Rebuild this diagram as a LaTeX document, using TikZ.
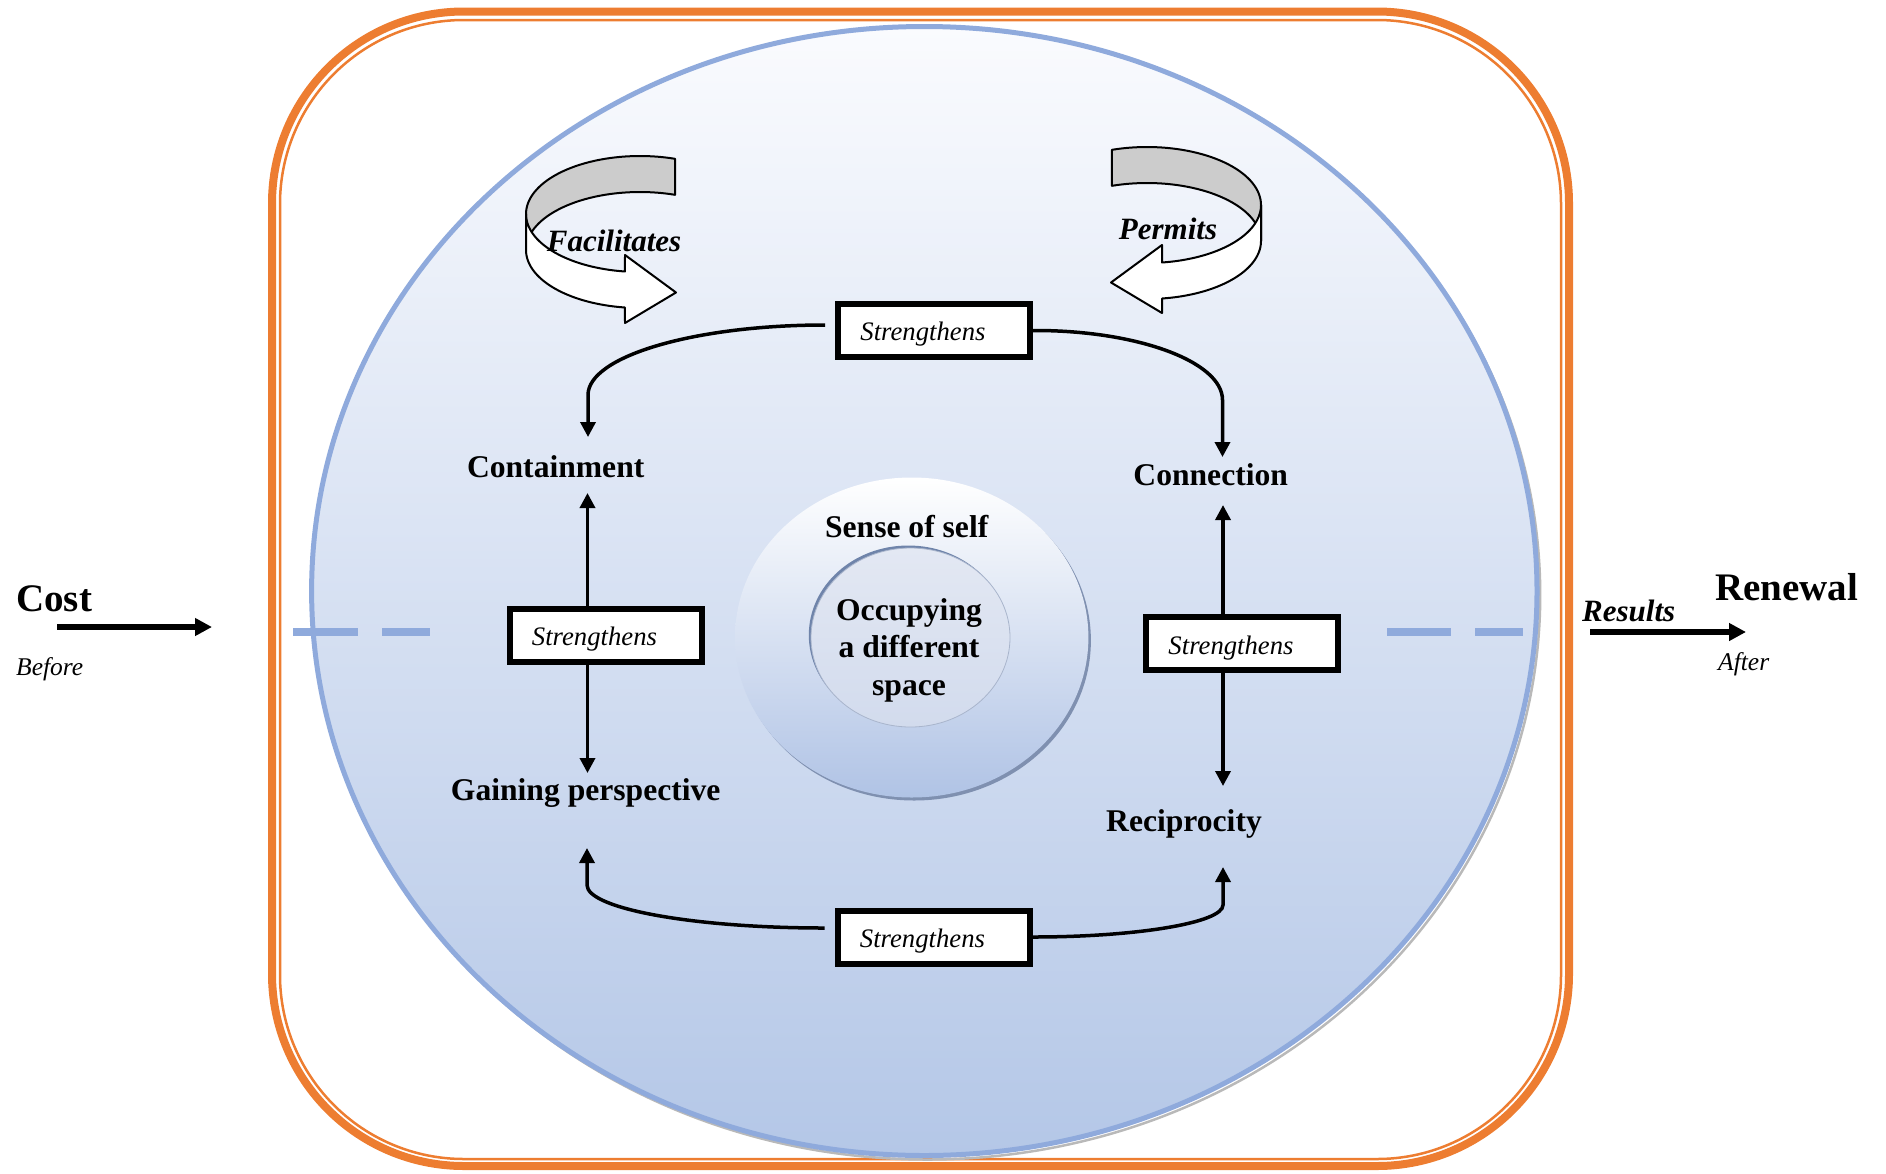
\documentclass[tikz,border=0pt]{standalone}
\usepackage{fontspec}
\setmainfont{Liberation Serif}
\usetikzlibrary{arrows.meta}
\definecolor{orng}{HTML}{ED7D31}
\definecolor{bluebd}{HTML}{8FAADC}
\definecolor{elltop}{HTML}{FAFBFE}
\definecolor{ellbot}{HTML}{B4C7E7}
\definecolor{ribgray}{HTML}{CCCCCC}
\definecolor{rimdark}{HTML}{7F90B0}
\definecolor{innertop}{HTML}{E3E8F3}
\definecolor{innerbot}{HTML}{D2DBED}
\definecolor{innerrim}{HTML}{6F84AA}
\definecolor{selfbot}{HTML}{B0C3E5}
\begin{document}
\begin{tikzpicture}[x=1pt,y=-1pt,
  lab/.style={font=\fontsize{31.6pt}{36pt}\selectfont\bfseries, inner sep=0pt, anchor=base},
  ribtxt/.style={font=\fontsize{31pt}{36pt}\selectfont\bfseries\itshape, inner sep=0pt, anchor=base},
  bigtxt/.style={font=\fontsize{39pt}{44pt}\selectfont\bfseries, inner sep=0pt, anchor=base west},
  smalltxt/.style={font=\fontsize{25.5pt}{30pt}\selectfont\itshape, inner sep=0pt, anchor=base west},
  sbox/.style={draw, line width=6pt, fill=white, minimum width=192pt, minimum height=53pt, inner sep=0pt, text height=25pt, text depth=4.4pt, font=\fontsize{26.7pt}{32pt}\selectfont\itshape},
  conn/.style={line width=3.5pt, -{Triangle[length=15pt,width=15pt]}},
  bigarrow/.style={line width=6pt, -{Triangle[length=17pt,width=17pt]}},
  ribbon/.style={line width=2pt, draw=black, line join=round},
  dashseg/.style={line width=8pt, draw=bluebd}]

\useasboundingbox (0,0) rectangle (1886,1173);

% orange frame
\draw[orng, line width=8pt, rounded corners=192pt] (272,11.5) rectangle (1569,1166);
\draw[orng, line width=2.5pt, rounded corners=184pt] (280,20) rectangle (1561,1159);

% big ellipse
\draw[gray!55, line width=2.5pt] (927.5,595) ellipse [x radius=612.7pt, y radius=564.5pt];
\shade[top color=elltop, bottom color=ellbot] (924.3,591) ellipse [x radius=612.7pt, y radius=564.5pt];
\draw[bluebd, line width=5pt] (924.3,591) ellipse [x radius=612.7pt, y radius=564.5pt];

% dashes
\draw[dashseg] (293,632) -- (358,632);
\draw[dashseg] (382,632) -- (430,632);
\draw[dashseg] (1387,632) -- (1451,632);
\draw[dashseg] (1475,632) -- (1523,632);

% Facilitates ribbon
\filldraw[ribbon, fill=ribgray] plot[domain=72.1:180, samples=40] ({640+114*cos(\x)},{214-58*sin(\x)})
  -- plot[domain=180:72.1, samples=40] ({640+114*cos(\x)},{250-58*sin(\x)}) -- cycle;
\filldraw[ribbon, fill=white] plot[domain=180:262.4, samples=40] ({640+114*cos(\x)},{214-58*sin(\x)})
  -- (625,255) -- (676,292.5) -- (625,323)
  -- plot[domain=262.4:180, samples=40] ({640+114*cos(\x)},{250-58*sin(\x)}) -- cycle;

% Permits ribbon
\filldraw[ribbon, fill=ribgray] plot[domain=107.9:0, samples=40] ({1147+114*cos(\x)},{205-58*sin(\x)})
  -- plot[domain=0:107.9, samples=40] ({1147+114*cos(\x)},{241-58*sin(\x)}) -- cycle;
\filldraw[ribbon, fill=white] plot[domain=0:-82.4, samples=40] ({1147+114*cos(\x)},{205-58*sin(\x)})
  -- (1162,245) -- (1111,282.5) -- (1162,313)
  -- plot[domain=-82.4:0, samples=40] ({1147+114*cos(\x)},{241-58*sin(\x)}) -- cycle;

% central ellipses
\fill[rimdark] (914.2,640.5) ellipse [x radius=176.7pt, y radius=160pt];
\shade[top color=white, bottom color=selfbot] (911.7,637.5) ellipse [x radius=176.7pt, y radius=160pt];
\fill[innerrim] (908.3,635) ellipse [x radius=99.5pt, y radius=89.5pt];
\shade[top color=innertop, bottom color=innerbot] (910.5,637.5) ellipse [x radius=99.5pt, y radius=89.5pt];
\draw[innerrim!60, line width=0.8pt] (910.5,637.5) ellipse [x radius=99.5pt, y radius=89.5pt];

% Strengthens boxes
\node[sbox] (sT) at (934,330.5) {\hspace*{-22pt}Strengthens};
\node[sbox] (sL) at (605.5,635) {\hspace*{-22pt}Strengthens};
\node[sbox] (sR) at (1242,643.7) {\hspace*{-22pt}Strengthens};
\node[sbox] (sB) at (933.5,937) {\hspace*{-22pt}Strengthens};

% arrow tips
\coordinate (tTL) at (588,437);
\coordinate (tTR) at (1222.5,457);
\coordinate (tLU) at (587.5,493);
\coordinate (tLD) at (587.5,773);
\coordinate (tRU) at (1223,505);
\coordinate (tRD) at (1223,786);
\coordinate (tBL) at (587,848);
\coordinate (tBR) at (1223,867);

% connectors
\draw[conn] ([xshift=-10pt,yshift=5.5pt]sT.west) .. controls (694.6,325) and (588,356.3) .. (588,395) -- (tTL);
\draw[conn] (sT.east) .. controls (1136,330) and (1222.5,361.3) .. (1222.5,400) -- (tTR);
\draw[conn] (sL.north -| tLU) -- (tLU);
\draw[conn] (sL.south -| tLD) -- (tLD);
\draw[conn] (sR.north -| tRU) -- (tRU);
\draw[conn] (sR.south -| tRD) -- (tRD);
\draw[conn] ([xshift=-10pt,yshift=9pt]sB.west) .. controls (694,928) and (587,908.7) .. (587,885) -- (tBL);
\draw[conn] (sB.east) .. controls (1137,937) and (1223,922.7) .. (1223,905) -- (tBR);

% labels
\node[lab] (cont) at (555.7,477) {Containment};
\node[lab] (connx) at (1210.7,485) {Connection};
\node[lab] (gain) at (585.7,800.7) {Gaining perspective};
\node[lab] (reci) at (1184,831.7) {Reciprocity};
\node[lab] (self) at (906.7,537.3) {Sense of self};
\node[lab, anchor=center, align=center, font=\fontsize{31.6pt}{37.5pt}\selectfont\bfseries] (occ) at (909,650) {Occupying\\a different\\space};
\node[ribtxt] (facil) at (614,251.7) {Facilitates};
\node[ribtxt] (perm) at (1168,239.3) {Permits};

% outside
\coordinate (cA) at (57,627);
\coordinate (cB) at (212,627);
\draw[bigarrow] (cA) -- (cB);
\coordinate (rA) at (1590,632);
\coordinate (rB) at (1746,632);
\draw[bigarrow] (rA) -- (rB);
\node[bigtxt] (cost) at (16,611) {Cost};
\node[smalltxt] (before) at (16,675) {Before};
\node[bigtxt] (renewal) at (1715,600) {Renewal};
\node[ribtxt, anchor=base west] (results) at (1582,621) {Results};
\node[smalltxt] (after) at (1718,670.7) {After};
\end{tikzpicture}
\end{document}
